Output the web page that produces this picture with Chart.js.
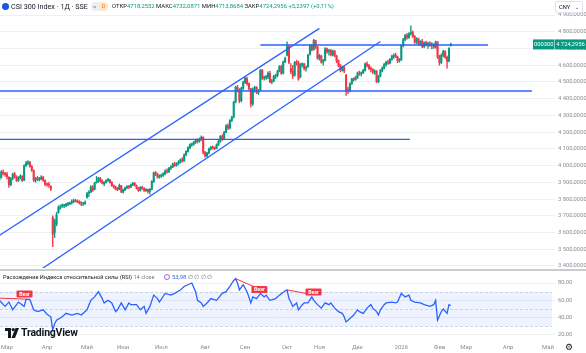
<!DOCTYPE html>
<html>
<head>
<meta charset="utf-8">
<script src="https://cdn.jsdelivr.net/npm/chart.js@4.4.1/dist/chart.umd.min.js"></script>
<style>
  body { margin:0; background:#fff; width:586px; height:353px; overflow:hidden; position:relative; font-family:Roboto, "Noto Sans", sans-serif; }
  canvas { position:absolute; left:0; }
  #main { top:0; }
  #rsi { top:270px; }
  .abs { position:absolute; white-space:nowrap; }
  .g { color:#089981; }
</style>
</head>
<body>
<canvas id="main" width="586" height="270"></canvas>
<canvas id="rsi" width="586" height="83"></canvas>

<!-- header -->
<div class="abs" style="left:2px;top:3px;width:7px;height:7px;border-radius:50%;background:#1e53e5;"></div>
<div class="abs" style="left:11px;top:1px;font-size:7.2px;color:#131722;line-height:11px;">CSI 300 Index · 1Д · SSE</div>
<div class="abs" style="left:91px;top:2px;width:17px;height:9px;border-radius:5px;background:#eceef2;"></div>
<div class="abs" style="left:93px;top:1px;font-size:6px;color:#787b86;line-height:11px;">=</div>
<div class="abs" style="left:99px;top:2px;width:9px;height:9px;border-radius:50%;background:#fde6cc;font-size:5.5px;color:#f57c00;line-height:9px;text-align:center;">D</div>
<div class="abs" style="left:112px;top:1px;font-size:5.9px;color:#131722;line-height:11px;">ОТКР<span class="g">4718,2552</span> МАКС<span class="g">4732,0871</span> МИН<span class="g">4713,8684</span> ЗАКР<span class="g">4724,2956</span> <span class="g">+5,2397 (+0,11%)</span></div>
<div class="abs" style="left:555px;top:1px;width:28px;height:12px;border:1px solid #e0e3eb;border-radius:2px;box-sizing:border-box;font-size:5.8px;color:#131722;line-height:10px;padding-left:3px;">CNY <span style="font-size:5px;margin-left:3px;">⌄</span></div>

<!-- pane separator -->
<div class="abs" style="left:0;top:268.5px;width:586px;height:2px;background:#c9cbd1;"></div>

<!-- RSI legend -->
<div class="abs" style="left:3px;top:272px;font-size:5.6px;color:#131722;line-height:10px;">Расхождение Индекса относительной силы (RSI) <span style="color:#787b86">14 close</span></div>
<div class="abs" style="left:164px;top:274px;width:4px;height:4px;border-radius:50%;border:1.3px solid #9c6ade;"></div>
<div class="abs" style="left:172px;top:272px;font-size:5.8px;color:#2962ff;line-height:10px;">53,98 <span style="color:#787b86">∅ ∅ ∅ ∅</span></div>

<!-- TradingView mark -->
<svg class="abs" style="left:5px;top:328px;" width="14" height="10" viewBox="0 0 14 10">
  <path d="M0 0H6V10H3V3H0Z" fill="#131722"/>
  <circle cx="8.2" cy="1.6" r="1.6" fill="#131722"/>
  <path d="M10.5 0H14L10 10H6.5Z" fill="#131722"/>
</svg>
<div class="abs" style="left:21px;top:326px;font-size:10.5px;font-weight:bold;color:#131722;line-height:13px;letter-spacing:-0.2px;">TradingView</div>
<div class="abs" style="left:565px;top:342px;font-size:9px;color:#131722;line-height:11px;">⚙</div>

<script>
// ---- data: daily candles [open, high, low, close], first bar index = -4 (25 Feb 2025)
const firstBar = -4;
const feb25 = [[3915,3935,3905,3928],[3930,3970,3925,3962],[3960,3975,3945,3955],[3955,3960,3935,3948]];
const mar25 = [[3948,3960,3920,3935],[3930,3935,3870,3885],[3885,3930,3880,3922],[3925,3955,3915,3948],[3950,3960,3925,3930],
  [3928,3940,3905,3912],[3912,3935,3905,3930],[3930,3945,3920,3938],[3935,3940,3905,3910],[3912,4005,3910,4000],
  [4000,4025,3995,4015],[4015,4030,4005,4020],[4020,4025,3990,3995],[3995,4000,3965,3972],[3970,3975,3905,3912],
  [3912,3930,3900,3925],[3925,3935,3910,3918],[3918,3930,3908,3920],[3920,3940,3915,3932],[3932,3935,3905,3912],
  [3910,3915,3880,3888]];
const apr25 = [[3888,3895,3875,3887],[3887,3900,3870,3884],[3875,3880,3850,3862],[3690,3700,3515,3590],[3600,3680,3570,3670],
  [3650,3720,3640,3705],[3720,3760,3715,3750],[3745,3765,3740,3752],[3758,3772,3750,3760],[3760,3768,3748,3762],
  [3760,3775,3755,3770],[3768,3780,3760,3773],[3772,3782,3765,3778],[3778,3795,3770,3785],[3785,3800,3778,3792],
  [3790,3798,3782,3786],[3788,3795,3778,3782],[3785,3790,3770,3776],[3776,3785,3760,3770],[3770,3780,3762,3775],
  [3775,3790,3768,3780]];
const may25 = [[3810,3840,3805,3832],[3835,3850,3815,3842],[3842,3880,3838,3872],[3870,3880,3845,3852],[3860,3900,3855,3895],
  [3900,3935,3895,3905],[3905,3930,3900,3925],[3922,3930,3900,3908],[3908,3915,3890,3895],[3890,3905,3880,3900],
  [3900,3915,3895,3910],[3910,3925,3905,3918],[3915,3918,3895,3900],[3900,3905,3875,3880],[3880,3885,3865,3872],
  [3872,3878,3855,3860],[3860,3870,3850,3858],[3858,3890,3855,3882],[3880,3882,3838,3842]];
const jun25 = [[3842,3860,3835,3855],[3855,3872,3850,3868],[3868,3880,3860,3875],[3875,3882,3862,3870],[3872,3890,3868,3885],
  [3885,3900,3880,3895],[3895,3898,3878,3882],[3880,3885,3860,3865],[3865,3870,3845,3852],[3852,3875,3848,3870],
  [3870,3878,3858,3862],[3862,3868,3845,3850],[3850,3862,3845,3858],[3858,3860,3835,3846],[3846,3862,3830,3858],
  [3858,3910,3855,3905],[3905,3962,3900,3958],[3958,3965,3940,3948],[3948,3955,3925,3932],[3932,3945,3925,3938]];
const jul25 = [[3938,3950,3930,3942],[3942,3958,3935,3952],[3950,3975,3945,3968],[3968,3980,3955,3962],[3962,3990,3960,3985],
  [3985,4000,3975,3992],[3992,4015,3988,4010],[4010,4020,3995,4002],[4002,4018,3996,4012],[4012,4030,4005,4020],
  [4020,4040,4015,4035],[4035,4048,4020,4028],[4028,4070,4025,4065],[4065,4090,4058,4085],[4085,4112,4080,4108],
  [4108,4130,4100,4125],[4125,4135,4115,4128],[4128,4145,4120,4140],[4140,4158,4132,4150],[4150,4160,4135,4145],
  [4145,4165,4140,4158],[4158,4178,4150,4170],[4170,4172,4070,4078]];
const aug25 = [[4078,4085,4050,4058],[4058,4080,4052,4075],[4075,4105,4070,4100],[4100,4115,4092,4110],[4110,4118,4098,4105],
  [4105,4112,4095,4102],[4102,4130,4100,4125],[4125,4150,4120,4145],[4145,4180,4140,4175],[4175,4185,4150,4160],
  [4160,4205,4155,4200],[4200,4245,4195,4238],[4238,4250,4215,4225],[4225,4275,4220,4270],[4270,4295,4262,4288],
  [4290,4385,4285,4378],[4380,4475,4375,4468],[4468,4480,4440,4452],[4450,4460,4375,4388],[4388,4470,4380,4462],
  [4462,4505,4455,4497]];
const sep25 = [[4497,4530,4490,4522],[4520,4528,4480,4490],[4490,4495,4450,4460],[4458,4462,4350,4368],[4368,4465,4360,4458],
  [4458,4475,4440,4468],[4468,4472,4430,4438],[4438,4455,4425,4448],[4450,4575,4448,4570],[4570,4575,4515,4522],
  [4522,4535,4510,4525],[4525,4540,4515,4528],[4528,4560,4520,4552],[4552,4565,4495,4500],[4500,4515,4490,4505],
  [4505,4540,4500,4535],[4535,4545,4520,4538],[4538,4570,4530,4565],[4565,4598,4560,4592],[4592,4600,4545,4552],
  [4552,4625,4548,4620],[4620,4648,4615,4640]];
const oct25 = [[4660,4740,4655,4712],[4712,4720,4610,4618],[4580,4610,4550,4562],[4565,4600,4520,4535],[4540,4622,4535,4618],
  [4618,4630,4600,4615],[4615,4625,4510,4518],[4530,4610,4525,4605],[4605,4615,4590,4608],[4608,4612,4570,4580],
  [4580,4595,4565,4588],[4590,4665,4588,4660],[4665,4722,4660,4716],[4716,4725,4685,4692],[4692,4755,4690,4748],
  [4748,4750,4700,4710],[4710,4712,4635,4642]];
const nov25 = [[4642,4665,4630,4656],[4656,4660,4612,4618],[4618,4635,4600,4628],[4628,4705,4625,4698],[4698,4702,4670,4680],
  [4680,4695,4660,4688],[4688,4695,4655,4662],[4662,4690,4655,4684],[4684,4690,4650,4655],[4655,4660,4615,4628],
  [4628,4632,4590,4598],[4598,4605,4560,4570],[4570,4595,4565,4588],[4588,4592,4555,4565],[4540,4545,4420,4450],
  [4450,4470,4430,4448],[4448,4495,4440,4490],[4490,4522,4485,4518],[4518,4525,4505,4515],[4515,4535,4510,4528]];
const dec25 = [[4528,4560,4520,4552],[4552,4565,4540,4548],[4548,4560,4535,4555],[4555,4575,4550,4570],[4570,4615,4565,4608],
  [4608,4620,4590,4598],[4598,4605,4575,4580],[4580,4590,4560,4575],[4575,4580,4550,4558],[4558,4572,4545,4565],
  [4565,4568,4495,4502],[4502,4540,4495,4535],[4535,4575,4530,4568],[4568,4590,4560,4582],[4582,4612,4578,4605],
  [4605,4625,4595,4618],[4618,4630,4605,4612],[4612,4640,4608,4635],[4635,4660,4628,4652],[4652,4668,4640,4660],
  [4660,4672,4645,4650],[4650,4655,4615,4628],[4628,4640,4618,4632]];
const jan26 = [[4632,4722,4628,4718],[4718,4760,4710,4752],[4752,4785,4745,4778],[4778,4790,4755,4765],[4765,4795,4760,4788],
  [4788,4835,4780,4795],[4795,4805,4765,4772],[4772,4778,4730,4738],[4738,4765,4730,4758],[4758,4762,4720,4728],
  [4728,4748,4718,4742],[4742,4755,4705,4712],[4712,4740,4705,4735],[4735,4745,4715,4722],[4722,4738,4700,4730],
  [4730,4742,4712,4718],[4718,4735,4698,4726],[4726,4730,4700,4708],[4708,4745,4702,4738],[4738,4742,4640,4650]];
const feb26 = [[4650,4660,4600,4615],[4615,4668,4610,4660],[4660,4690,4650,4682],[4682,4688,4640,4648],[4648,4655,4583,4625],
  [4625,4705,4620,4700],[4718.2552,4732.0871,4713.8684,4724.2956]];

// ---- RSI(14): bar index and value
const rsiBars = [-4,-1,1,3,6,9,10,12,14,16,19,21,23,24,25,26,29,31,34,37,39,42,44,46,48,50,51,53,55,57,58,60,62,64,65,68,70,72,73,75,
  77,79,80,83,86,88,91,93,95,97,99,100,102,103,105,107,110,113,115,117,119,120,121,122,124,126,128,129,131,133,135,136,138,141,143,
  146,147,148,149,150,152,153,155,156,158,160,161,163,165,167,169,170,172,174,176,177,178,180,182,184,185,187,189,191,192,194,195,196,
  198,199,202,204,205,207,209,211,212,214,217,219,222,224,225,226,228,229,231,232,233];
const rsiValues = [60,53,58,49,58,53,61,61,49,47,49,44,41,26,33,37,41,45,43,45,43,49,60,64,70,62,57,60,57,47,49,57,49,57,55,55,49,53,45,53,
  66,62,58,68,66,68,72,76,78,80,70,60,57,53,57,62,60,68,70,76,83,85,80,72,78,70,57,64,62,68,64,66,60,62,66,
  71,72,62,58,53,57,49,55,57,57,64,60,55,51,57,55,57,51,47,45,41,35,39,43,49,47,45,51,55,51,47,43,49,
  55,57,58,57,58,68,64,66,60,58,57,55,53,55,60,37,47,50,45,55,54];

// ---- drawings: trend lines (bar index, price)
const channelTop = [[-4,3583],[164,4820]];
const channelBottom = [[17,3373],[196,4742]];
const levelHigh = [[133,4721],[252.5,4721]];
const levelMid = [[-4,4446],[275.5,4446]];
const levelLow = [[-4,4157],[211.5,4157]];
// bearish divergence segments on RSI (bar index, rsi)
const bearLines = [[[-4,62.5],[11,61.3]], [[120,85],[130,75.5]], [[147,72],[157,68]]];
const bearLabels = [[9.2,67.3],[132.5,72.5],[160.9,69.6]];

// ---- time axis
const monthTicks = [0,21,42,61,81,104,125,147,164,184,207,227,241,263,284];
const monthLabels = ['Мар','Апр','Май','Июн','Июл','Авг','Сен','Окт','Ноя','Дек','2026','Фев','Мар','Апр','Май'];
const priceTicks = [3400,3500,3600,3700,3800,3900,4000,4100,4200,4300,4400,4500,4600,4700,4800,4900];
const rsiTicks = [20,40,60,80];

const UP = '#089981', DOWN = '#f23645', BLUE = '#2962ff', AXIS_TXT = '#8a8d96', GRID = '#eef0f4';
const X_MIN = -3.675, X_MAX = 287.66;

const candles = [].concat(feb25, mar25, apr25, may25, jun25, jul25, aug25, sep25, oct25, nov25, dec25, jan26, feb26);
const wickData = candles.map((c, k) => ({x: firstBar + k, y: [c[2], c[1]]}));
const bodyData = candles.map((c, k) => ({x: firstBar + k, y: [c[0], c[3]]}));
const candleColors = candles.map(c => c[3] >= c[0] ? UP : DOWN);
const lastClose = candles[candles.length - 1][3];

function pts(arr) { return arr.map(p => ({x: p[0], y: p[1]})); }
function fmtPrice(v) {
  return String(Math.round(v)).replace(/\B(?=(\d{3})+$)/g, ' ') + ',0000';
}
function noPad(s) { s.paddingTop = 0; s.paddingBottom = 0; s.paddingLeft = 0; s.paddingRight = 0; }

const lastPriceLabel = {
  id: 'lastPriceLabel',
  afterDraw(chart) {
    const ctx = chart.ctx, y = chart.scales.y.getPixelForValue(lastClose);
    ctx.save();
    ctx.fillStyle = UP;
    ctx.fillRect(533, y - 5, 21.5, 10);
    ctx.fillRect(555, y - 5, 31, 10);
    ctx.fillStyle = '#fff';
    ctx.font = '5.8px Roboto, sans-serif';
    ctx.textBaseline = 'middle';
    ctx.textAlign = 'center';
    ctx.fillText('000300', 543.7, y + 0.3);
    ctx.fillText('4 724,2956', 570.5, y + 0.3);
    ctx.restore();
  }
};

function lineSet(arr, color) {
  return {type: 'line', data: pts(arr), borderColor: color, borderWidth: 1.3, pointRadius: 0, order: 0};
}

new Chart(document.getElementById('main'), {
  type: 'bar',
  data: {
    datasets: [
      lineSet(channelTop, BLUE), lineSet(channelBottom, BLUE),
      lineSet(levelHigh, BLUE), lineSet(levelMid, BLUE), lineSet(levelLow, BLUE),
      {type: 'bar', data: bodyData, backgroundColor: candleColors, barThickness: 1.4, minBarLength: 1, grouped: false, order: 1},
      {type: 'bar', data: wickData, backgroundColor: candleColors, barThickness: 0.7, grouped: false, order: 2}
    ]
  },
  options: {
    responsive: false, animation: false, events: [],
    layout: {padding: {top: 8, bottom: 2, left: 0, right: 0}},
    plugins: {legend: {display: false}, tooltip: {enabled: false}},
    scales: {
      x: {type: 'linear', min: X_MIN, max: X_MAX, display: false, offset: false},
      y: {
        type: 'linear', position: 'right', min: 3388, max: 4942,
        afterBuildTicks: s => { s.ticks = priceTicks.map(v => ({value: v})); },
        afterFit: s => { s.width = 31; noPad(s); },
        grid: {color: GRID, drawTicks: false},
        border: {display: false},
        ticks: {color: AXIS_TXT, font: {size: 5.8, family: 'Roboto'}, padding: 3, crossAlign: 'center', callback: v => fmtPrice(v)}
      }
    }
  },
  plugins: [lastPriceLabel]
});

const rsiBand = {
  id: 'rsiBand',
  beforeDatasetsDraw(chart) {
    const ctx = chart.ctx, a = chart.chartArea, ys = chart.scales.y;
    const y70 = ys.getPixelForValue(70), y30 = ys.getPixelForValue(30), y50 = ys.getPixelForValue(50);
    ctx.save();
    ctx.fillStyle = 'rgba(41,98,255,0.08)';
    ctx.fillRect(a.left, y70, a.right - a.left - 3, y30 - y70);
    ctx.strokeStyle = '#c9d3e6';
    ctx.lineWidth = 1;
    ctx.setLineDash([3, 2]);
    [y70, y50, y30].forEach(y => {
      ctx.beginPath(); ctx.moveTo(a.left, Math.round(y) + 0.5); ctx.lineTo(a.right - 3, Math.round(y) + 0.5); ctx.stroke();
    });
    ctx.restore();
  },
  afterDatasetsDraw(chart) {
    const ctx = chart.ctx, xs = chart.scales.x, ys = chart.scales.y;
    ctx.save();
    ctx.font = 'bold 5.2px Roboto, sans-serif';
    ctx.textAlign = 'center';
    ctx.textBaseline = 'middle';
    bearLabels.forEach(p => {
      const x = xs.getPixelForValue(p[0]), y = ys.getPixelForValue(p[1]);
      ctx.fillStyle = DOWN;
      ctx.beginPath();
      ctx.roundRect(x - 8, y - 3.5, 16, 7, 1);
      ctx.fill();
      ctx.fillStyle = '#fff';
      ctx.fillText('Bear', x, y + 0.2);
    });
    ctx.restore();
  }
};

new Chart(document.getElementById('rsi'), {
  type: 'line',
  data: {
    datasets: [
      {data: rsiBars.map((b, k) => ({x: b, y: rsiValues[k]})), borderColor: BLUE, borderWidth: 1.3, pointRadius: 0, tension: 0, order: 1},
      ...bearLines.map(l => ({data: pts(l), borderColor: DOWN, borderWidth: 1, pointRadius: 0, order: 0}))
    ]
  },
  options: {
    responsive: false, animation: false, events: [],
    layout: {padding: {top: 2, bottom: 0, left: 0, right: 0}},
    plugins: {legend: {display: false}, tooltip: {enabled: false}},
    scales: {
      x: {
        type: 'linear', min: X_MIN, max: X_MAX, offset: false,
        afterBuildTicks: s => { s.ticks = monthTicks.map(v => ({value: v})); },
        afterFit: s => { s.height = 13; noPad(s); },
        grid: {display: false, drawTicks: false}, border: {display: false},
        ticks: {
          color: AXIS_TXT, padding: 4, maxRotation: 0, autoSkip: false,
          font: {size: 6, family: 'Roboto'},
          callback: v => monthLabels[monthTicks.indexOf(v)]
        }
      },
      y: {
        type: 'linear', position: 'right', min: 14.2, max: 92.7,
        afterBuildTicks: s => { s.ticks = rsiTicks.map(v => ({value: v})); },
        afterFit: s => { s.width = 31; noPad(s); },
        grid: {color: GRID, drawTicks: false}, border: {display: false},
        ticks: {color: AXIS_TXT, font: {size: 5.8, family: 'Roboto'}, padding: 3, crossAlign: 'center', callback: v => v.toFixed(2).replace('.', ',')}
      }
    }
  },
  plugins: [rsiBand]
});
</script>
</body>
</html>
